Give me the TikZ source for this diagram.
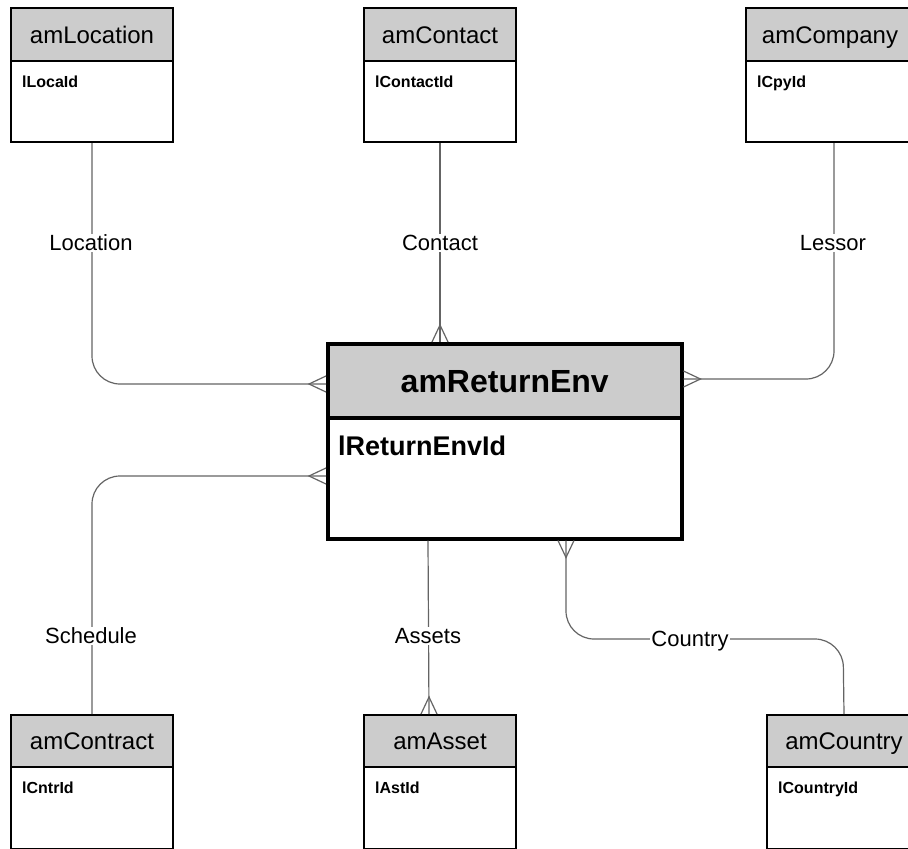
\documentclass[tikz,border=0pt]{standalone}
\usepackage{fontspec}
\setmainfont{Liberation Sans}
\usetikzlibrary{calc}
\definecolor{hdr}{RGB}{204,204,204}
\definecolor{lnk}{RGB}{100,100,100}
\tikzset{
  ebox/.style={draw=black, line width=2pt, fill=white, anchor=north west, inner sep=0pt, minimum height=134pt},
  ehead/.style={draw=black, line width=2pt, fill=hdr, anchor=north west, inner sep=0pt,
    text height=17pt, text depth=0pt, font=\fontsize{24}{28}\selectfont},
  eid/.style={anchor=north west, inner sep=0pt, font=\bfseries\fontsize{16}{19}\selectfont},
  conn/.style={draw=lnk, line width=1.2pt, rounded corners=28pt},
  crowline/.style={draw=lnk, line width=1.2pt},
  lbl/.style={fill=white, inner sep=1.5pt, text height=15.8pt, text depth=0pt, font=\fontsize{22}{26}\selectfont},
}
\newcommand\entity[7]{%
  \node[ebox, minimum width=#4pt] (#1) at (#2,#3) {};
  \node[ehead, minimum width=#4pt, minimum height=#5pt] (#1h) at (#1.north west) {#6};
  \node[eid] (#1id) at ($(#1h.south west)+(12,14)$) {#7};
}
\newcommand\crowfoot[2]{\draw[crowline, shift={#1}, rotate=#2] (0,-8) -- (17,0) -- (0,8);}
\begin{document}
\begin{tikzpicture}[x=1pt, y=-1pt]
\useasboundingbox (0,0) rectangle (908,849);
% entities
\entity{loc}{10}{7}{162}{53}{amLocation}{lLocaId}
\entity{ctc}{363}{7}{152}{53}{amContact}{lContactId}
\entity{cpy}{745}{7}{168}{53}{amCompany}{lCpyId}
\entity{con}{10}{714}{162}{52}{amContract}{lCntrId}
\entity{ast}{363}{714}{152}{52}{amAsset}{lAstId}
\entity{cty}{766}{714}{154}{52}{amCountry}{lCountryId}
% central entity
\node[ebox, line width=3.5pt, minimum width=354pt, minimum height=195pt] (ret) at (326,342) {};
\node[ehead, line width=3.5pt, minimum width=354pt, minimum height=74pt, text height=23pt,
  font=\bfseries\fontsize{32}{38}\selectfont] (reth) at (ret.north west) {amReturnEnv};
\node[eid, font=\bfseries\fontsize{27}{32}\selectfont] (retid) at ($(reth.south west)+(12,16)$) {lReturnEnvId};
% connectors
\draw[conn] (loc.south) |- (ret.west |- 0,384);
\draw[conn] (ctc.south) -- (ctc.south |- ret.north);
\draw[conn] ([xshift=4pt]cpy.south) |- (ret.east |- 0,379);
\draw[conn] (con.north) |- (ret.west |- 0,476);
\draw[conn] (ret.south -| 428,0) -- ([xshift=-11pt]ast.north);
\coordinate (ctyturn) at (843,639);
\draw[conn] (ret.south -| 566,0) |- (ctyturn) -- (cty.north);
% crow's feet
\crowfoot{(ret.west |- 0,384)}{180}
\crowfoot{(ctc.south |- ret.north)}{90}
\crowfoot{(ret.east |- 0,379)}{0}
\crowfoot{(ret.west |- 0,476)}{180}
\crowfoot{([xshift=-11pt]ast.north)}{90}
\crowfoot{(ret.south -| 566,0)}{-90}
% labels
\node[lbl] (l1) at (91,243) {Location};
\node[lbl] (l2) at (440,243) {Contact};
\node[lbl] (l3) at (833,243) {Lessor};
\node[lbl] (l4) at (91,636) {Schedule};
\node[lbl] (l5) at (428,636) {Assets};
\node[lbl] (l6) at (690,639) {Country};
\end{tikzpicture}
\end{document}
